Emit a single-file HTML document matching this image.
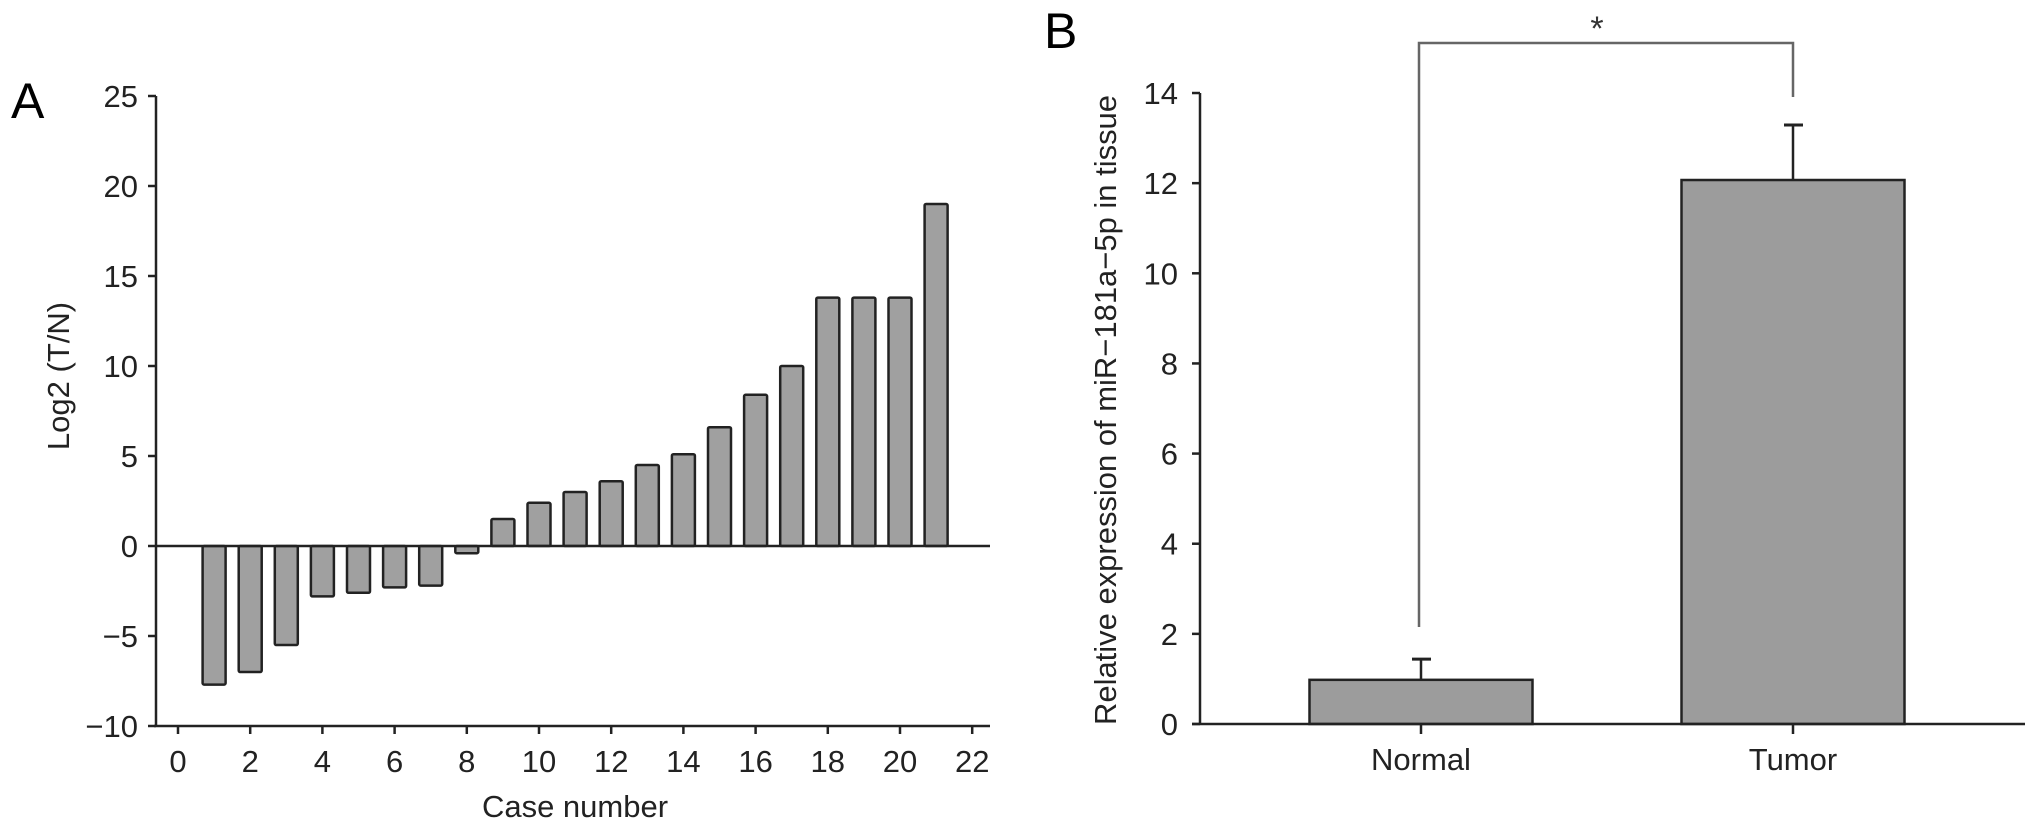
<!DOCTYPE html>
<html><head><meta charset="utf-8"><style>
html,body{margin:0;padding:0;background:#fff;}
svg{display:block;font-family:"Liberation Sans",Arial,sans-serif;}
</style></head><body>
<svg id="fig" width="2032" height="831" viewBox="0 0 2032 831">
<g id="panelA"></g>
<g id="panelB"></g>
</svg>
<script>
// Panel A data
const caseNumbers = [1,2,3,4,5,6,7,8,9,10,11,12,13,14,15,16,17,18,19,20,21];
const log2Values = [-7.7,-7.0,-5.5,-2.8,-2.6,-2.3,-2.2,-0.4,1.5,2.4,3.0,3.6,4.5,5.1,6.6,8.4,10.0,13.8,13.8,13.8,19.0];
const yTicksA = [-10,-5,0,5,10,15,20,25];
const xTicksA = [0,2,4,6,8,10,12,14,16,18,20,22];
// Panel B data
const groups = ["Normal","Tumor"];
const groupMeans = [0.98,12.07];
const groupErrTop = [1.44,13.29];
const yTicksB = [0,2,4,6,8,10,12,14];

const NS="http://www.w3.org/2000/svg";
function mk(parent,tag,attrs,text){const e=document.createElementNS(NS,tag);for(const k in attrs)e.setAttribute(k,attrs[k]);if(text!==undefined)e.textContent=text;parent.appendChild(e);return e;}
const FS=31;

// ---- Panel A ----
const A=document.getElementById('panelA');
const axA={x0:156,yBottom:726,xStart:178,xPer:36.1,yZero:546,yPer:18};
const xA=v=>axA.xStart+v*axA.xPer;
const yA=v=>axA.yZero-v*axA.yPer;
let t=mk(A,'text',{x:11,y:118,'font-size':50},'A');


caseNumbers.forEach((c,i)=>{
  const v=log2Values[i];const bw=23;
  const y1=Math.min(yA(v),yA(0)),h=Math.abs(yA(v)-yA(0));
  const r=mk(A,'rect',{x:xA(c)-bw/2,y:y1,width:bw,height:Math.max(h,2),fill:'#a0a0a0',stroke:'#222','stroke-width':2.5,rx:1.5});
  
  
});
let l=mk(A,'line',{x1:axA.x0,y1:yA(-10),x2:axA.x0,y2:yA(25),stroke:'#222','stroke-width':2.5});


l=mk(A,'line',{x1:axA.x0-2,y1:axA.yBottom,x2:990,y2:axA.yBottom,stroke:'#222','stroke-width':2.5});


l=mk(A,'line',{x1:axA.x0,y1:yA(0),x2:990,y2:yA(0),stroke:'#222','stroke-width':2.5});


yTicksA.forEach(v=>{
  mk(A,'line',{x1:axA.x0-8,y1:yA(v),x2:axA.x0,y2:yA(v),stroke:'#222','stroke-width':2.5});
  const tx=mk(A,'text',{x:axA.x0-18,y:yA(v)+11,'font-size':FS,'text-anchor':'end',fill:'#222'},v<0?'\u2212'+Math.abs(v):String(v));
  
  
});
xTicksA.forEach(v=>{
  mk(A,'line',{x1:xA(v),y1:axA.yBottom,x2:xA(v),y2:axA.yBottom+8,stroke:'#222','stroke-width':2.5});
  const tx=mk(A,'text',{x:xA(v),y:772,'font-size':FS,'text-anchor':'middle',fill:'#222'},String(v));
  
  
});
t=mk(A,'text',{x:575,y:817,'font-size':FS,'text-anchor':'middle',fill:'#222'},'Case number');


t=mk(A,'text',{x:0,y:0,'font-size':FS,'text-anchor':'middle',fill:'#222',transform:'translate(69,376) rotate(-90)'},'Log2 (T/N)');



// ---- Panel B ----
const B=document.getElementById('panelB');
const axB={x0:1200,yZero:724,yPer:45.07,xEnd:2025};
const yB=v=>axB.yZero-v*axB.yPer;
const xCenters=[1421,1793];
const bwB=223;
t=mk(B,'text',{x:1044,y:48,'font-size':50},'B');


groups.forEach((g,i)=>{
  const cx=xCenters[i];
  const e=mk(B,'line',{x1:cx,y1:yB(groupMeans[i]),x2:cx,y2:yB(groupErrTop[i]),stroke:'#222','stroke-width':2.5});
  
  
  mk(B,'line',{x1:cx-9,y1:yB(groupErrTop[i]),x2:cx+10,y2:yB(groupErrTop[i]),stroke:'#222','stroke-width':3});
  const r=mk(B,'rect',{x:cx-bwB/2,y:yB(groupMeans[i]),width:bwB,height:yB(0)-yB(groupMeans[i]),fill:'#9c9c9c',stroke:'#222','stroke-width':2.5});
  
  
  mk(B,'line',{x1:cx,y1:axB.yZero,x2:cx,y2:axB.yZero+10,stroke:'#222','stroke-width':2.5});
  const tx=mk(B,'text',{x:cx,y:770,'font-size':FS,'text-anchor':'middle',fill:'#222'},g);
  
  
});
l=mk(B,'line',{x1:axB.x0,y1:yB(0),x2:axB.x0,y2:yB(14),stroke:'#222','stroke-width':2.5});


l=mk(B,'line',{x1:axB.x0-8,y1:yB(0),x2:axB.xEnd,y2:yB(0),stroke:'#222','stroke-width':2.5});


yTicksB.forEach(v=>{
  mk(B,'line',{x1:axB.x0-8,y1:yB(v),x2:axB.x0,y2:yB(v),stroke:'#222','stroke-width':2.5});
  const tx=mk(B,'text',{x:axB.x0-22,y:yB(v)+11,'font-size':FS,'text-anchor':'end',fill:'#222'},String(v));
  
  
});
const br=mk(B,'path',{d:`M${xCenters[0]-2} 627 V43 H${xCenters[1]} V97`,fill:'none',stroke:'#666','stroke-width':2.5});


t=mk(B,'text',{x:1597,y:40,'font-size':34,'text-anchor':'middle',fill:'#333'},'*');


t=mk(B,'text',{x:0,y:0,'font-size':FS,'text-anchor':'middle',fill:'#222',textLength:630,lengthAdjust:'spacingAndGlyphs',transform:'translate(1116,410) rotate(-90)'},'Relative expression of miR\u2212181a\u22125p in tissue');


</script>
</body></html>
